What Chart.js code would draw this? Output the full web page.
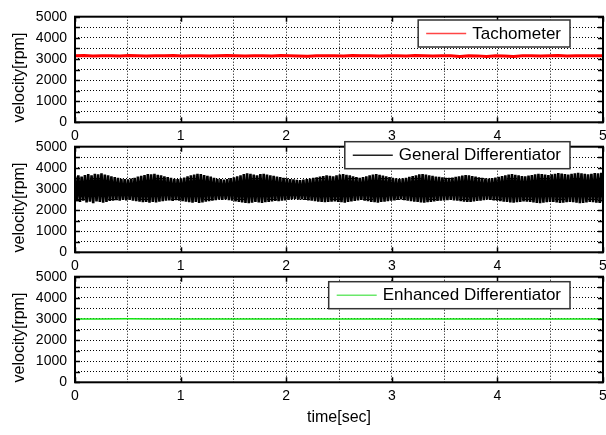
<!DOCTYPE html>
<html><head><meta charset="utf-8">
<script src="https://cdn.jsdelivr.net/npm/chart.js@4.4.1/dist/chart.umd.min.js"></script>
<style>
html,body{margin:0;padding:0;background:#fff;overflow:hidden;width:606px;height:435px;}
canvas{position:absolute;left:0;}
</style></head><body>
<canvas id="c1" width="620" height="150" style="top:0px;width:620px;height:150px"></canvas>
<canvas id="c2" width="620" height="150" style="top:130px;width:620px;height:150px"></canvas>
<canvas id="c3" width="620" height="175" style="top:260px;width:620px;height:175px"></canvas>
<script>
// ---- data ----
const timeRange = [0, 5];            // seconds
const xTickLabels = [0, 1, 2, 3, 4, 5];
const yTickLabels = [0, 1000, 2000, 3000, 4000, 5000];
const seriesNames = ['Tachometer', 'General Differentiator', 'Enhanced Differentiator'];
const yLabel = 'velocity[rpm]';
const xLabel = 'time[sec]';

// Tachometer velocity samples (rpm), evenly spaced over 0..5 s
const tachometer = [
  3150,3160,3145,3155,3150,3140,3160,3150,3145,3155,
  3150,3160,3140,3150,3155,3145,3150,3160,3150,3140,
  3155,3150,3145,3160,3150,3140,3130,3150,3155,3150,
  3145,3160,3150,3150,3140,3155,3150,3145,3160,3150,
  3140,3150,3155,3120,3150,3145,3110,3150,3140,3120,
  3150,3155,3145,3150,3160,3140,3150,3155,3150,3150
];
// General differentiator: alternating peak / trough samples (rpm)
const genPeaks = [
  3600,3640,3580,3660,3700,3650,3720,3690,3740,3680,3640,3600,3560,3520,3480,3460,
  3450,3490,3530,3580,3620,3660,3700,3690,3720,3670,3640,3600,3560,3520,3480,3470,
  3500,3540,3600,3640,3680,3720,3700,3660,3620,3580,3530,3480,3460,3440,3470,3510,
  3550,3600,3650,3700,3740,3710,3680,3640,3700,3720,3680,3650,3620,3590,3560,3530,
  3500,3470,3450,3430,3420,3440,3460,3490,3520,3550,3580,3610,3640,3620,3600,3650,
  3680,3700,3670,3640,3600,3560,3530,3560,3600,3640,3680,3700,3670,3630,3600,3560,
  3530,3500,3480,3500,3530,3570,3610,3650,3690,3700,3680,3650,3620,3590,3570,3550,
  3530,3520,3540,3570,3600,3630,3660,3640,3610,3580,3550,3520,3500,3490,3510,3540,
  3570,3610,3650,3680,3700,3670,3640,3610,3600,3630,3660,3690,3720,3700,3680,3660,
  3690,3720,3750,3730,3700,3680,3710,3740,3760,3740,3710,3690,3720,3750,3740,3760
];
const genTroughs = [
  2420,2380,2440,2360,2400,2330,2410,2380,2350,2390,2430,2450,2470,2440,2480,2460,
  2480,2450,2420,2400,2370,2390,2350,2380,2360,2400,2420,2440,2460,2430,2470,2450,
  2420,2400,2370,2350,2380,2340,2360,2400,2420,2450,2470,2490,2480,2500,2470,2440,
  2410,2380,2360,2340,2320,2350,2380,2360,2340,2370,2390,2410,2430,2420,2440,2460,
  2480,2500,2520,2490,2510,2480,2460,2440,2420,2400,2390,2370,2380,2400,2410,2390,
  2370,2350,2380,2410,2430,2460,2480,2450,2420,2390,2370,2350,2380,2400,2420,2440,
  2460,2480,2500,2470,2450,2420,2400,2380,2360,2350,2370,2390,2410,2430,2450,2460,
  2470,2480,2460,2440,2420,2400,2380,2390,2410,2430,2450,2470,2490,2480,2460,2440,
  2420,2400,2380,2360,2350,2370,2390,2410,2400,2380,2360,2340,2330,2350,2370,2390,
  2380,2360,2340,2350,2370,2390,2370,2350,2330,2340,2360,2380,2370,2350,2340,2360
];
// Enhanced differentiator samples (rpm)
const enhanced = [2995,3000,3005,2998,3002,3000,2997,3003,3000,2999,3001,3000,2998,3002,3000,3001,2999,3000,3002,2998,3000];

// ---- build point tables (evenly sampled over the time range) ----
function toPoints(vals) {
  const n = vals.length, span = timeRange[1] - timeRange[0];
  return vals.map((v, i) => ({ x: timeRange[0] + span * i / (n - 1), y: v }));
}
const genSamples = [];
genPeaks.forEach((p, i) => { genSamples.push(p); genSamples.push(genTroughs[i]); });

const FONT = '"Liberation Sans", Arial, sans-serif';

function framePlugin(cfg) {
  return {
    id: 'frame' + cfg.idx,
    afterDraw(chart) {
      const ctx = chart.ctx, a = chart.chartArea;
      const xs = chart.scales.x, ys = chart.scales.y;
      ctx.save();
      // inward tick marks
      ctx.strokeStyle = '#000'; ctx.lineWidth = 1.5;
      ctx.beginPath();
      ys.ticks.forEach(t => {
        const py = Math.round(ys.getPixelForValue(t.value)) + 0.5;
        ctx.moveTo(a.left, py); ctx.lineTo(a.left + 5, py);
        ctx.moveTo(a.right, py); ctx.lineTo(a.right - 5, py);
      });
      xTickLabels.forEach(v => {
        const px = Math.round(xs.getPixelForValue(v)) + 0.5;
        ctx.moveTo(px, a.bottom); ctx.lineTo(px, a.bottom - 5);
        ctx.moveTo(px, a.top); ctx.lineTo(px, a.top + 5);
      });
      ctx.stroke();
      // frame
      ctx.lineWidth = 2; ctx.strokeStyle = '#000';
      ctx.strokeRect(a.left, a.top, a.right - a.left, a.bottom - a.top);
      // y title
      ctx.fillStyle = '#000';
      ctx.font = '16px ' + FONT;
      ctx.textAlign = 'center'; ctx.textBaseline = 'middle';
      ctx.save();
      ctx.translate(20, (a.top + a.bottom) / 2 + 8);
      ctx.rotate(-Math.PI / 2);
      ctx.fillText(yLabel, 0, 0);
      ctx.restore();
      if (cfg.xTitle) {
        ctx.fillText(xLabel, (a.left + a.right) / 2, a.bottom + 35);
      }
      // legend
      ctx.font = '17px ' + FONT;
      const w = ctx.measureText(cfg.name).width;
      const bw = 8 + 40 + 6 + w + 9, bh = 27;
      const bx = 570 - bw, by = cfg.boxTop;
      ctx.fillStyle = '#fff';
      ctx.fillRect(bx, by, bw, bh);
      ctx.lineWidth = 1.5; ctx.strokeStyle = '#333';
      ctx.strokeRect(bx, by, bw, bh);
      ctx.beginPath();
      ctx.lineWidth = 1.5; ctx.strokeStyle = cfg.legendColor;
      ctx.moveTo(bx + 8, by + 13.5); ctx.lineTo(bx + 48, by + 13.5);
      ctx.stroke();
      ctx.fillStyle = '#000'; ctx.textAlign = 'left'; ctx.textBaseline = 'middle';
      ctx.fillText(cfg.name, bx + 54, by + 14);
      ctx.restore();
    }
  };
}

function makeChart(id, cfg) {
  return new Chart(document.getElementById(id), {
    type: 'line',
    data: {
      datasets: [{
        label: cfg.name,
        data: cfg.points,
        borderColor: cfg.color,
        borderWidth: cfg.width,
        pointRadius: 0,
        tension: 0,
        fill: false
      }]
    },
    options: {
      responsive: false,
      animation: false,
      devicePixelRatio: 1,
      layout: { padding: { top: 16.7, right: 17, left: 0, bottom: 0 } },
      plugins: { legend: { display: false }, tooltip: { enabled: false } },
      scales: {
        x: {
          type: 'linear', min: timeRange[0], max: timeRange[1],
          border: { display: false, dash: [1, 2] },
          grid: { color: '#000', lineWidth: 1, drawTicks: false },
          ticks: {
            stepSize: 0.5, autoSkip: false, maxRotation: 0, padding: 5,
            color: '#000', font: { family: FONT, size: 14 },
            callback: v => xTickLabels.includes(v) ? String(v) : ''
          },
          afterFit: s => { s.height = cfg.xHeight; }
        },
        y: {
          min: 0, max: 5000,
          border: { display: false, dash: [1, 2] },
          grid: { color: '#000', lineWidth: 1, drawTicks: false },
          ticks: {
            stepSize: 500, autoSkip: false, padding: 8,
            color: '#000', font: { family: FONT, size: 14 },
            callback: v => yTickLabels.includes(v) ? String(v) : ''
          },
          afterFit: s => { s.width = 75; }
        }
      }
    },
    plugins: [framePlugin(cfg)]
  });
}

makeChart('c1', { idx: 1, name: seriesNames[0], points: toPoints(tachometer), color: 'rgb(255,0,0)', width: 3,
  legendColor: 'rgb(255,70,70)', boxTop: 20, xHeight: 27.7 });
makeChart('c2', { idx: 2, name: seriesNames[1], points: toPoints(genSamples), color: '#000', width: 2.6,
  legendColor: '#222', boxTop: 11.7, xHeight: 27.7 });
makeChart('c3', { idx: 3, name: seriesNames[2], points: toPoints(enhanced), color: 'rgb(20,230,20)', width: 1.5,
  legendColor: '#6be86b', boxTop: 21.7, xHeight: 52.7, xTitle: true });
</script>
</body></html>
